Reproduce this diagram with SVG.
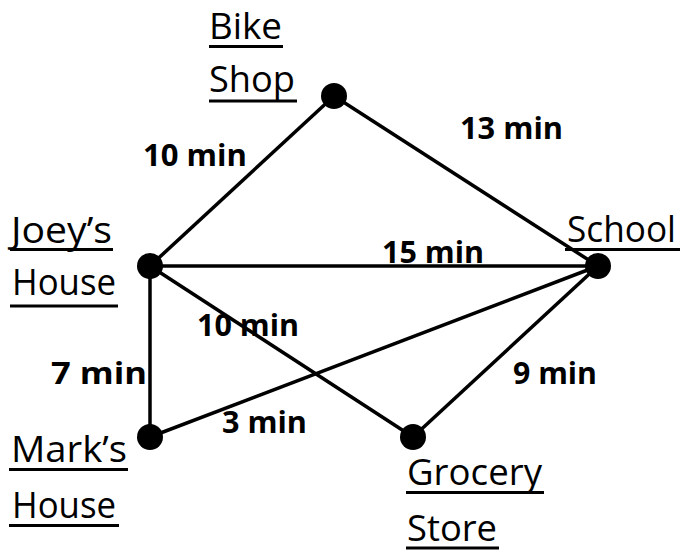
<svg xmlns="http://www.w3.org/2000/svg" width="680" height="550" viewBox="0 0 680 550">
<style>
.lbl{font-family:"Open Sans","Liberation Sans",sans-serif;font-size:36px;fill:#000}
.w{font-family:"Open Sans","Liberation Sans",sans-serif;font-size:30px;font-weight:bold;fill:#000}
.ul{stroke:#000;stroke-width:3}
.e{stroke:#000;stroke-width:3.5;fill:none}
.n{fill:#000}
</style>
<rect width="680" height="550" fill="#fff"/>
<g id="edges">
<line class="e" x1="150" y1="266" x2="334" y2="96"/>
<line class="e" x1="334" y1="96" x2="598" y2="266"/>
<line class="e" x1="150" y1="266" x2="598" y2="266"/>
<line class="e" x1="150" y1="266" x2="150" y2="437"/>
<line class="e" x1="150" y1="266" x2="413" y2="437"/>
<line class="e" x1="150" y1="437" x2="598" y2="266"/>
<line class="e" x1="598" y1="266" x2="413" y2="437"/>
</g>
<g id="weights">
<text class="w" x="143" y="166" textLength="104" lengthAdjust="spacingAndGlyphs">10 min</text>
<text class="w" x="460" y="139" textLength="103" lengthAdjust="spacingAndGlyphs">13 min</text>
<text class="w" x="382" y="263" textLength="102" lengthAdjust="spacingAndGlyphs">15 min</text>
<text class="w" x="197" y="336" textLength="102" lengthAdjust="spacingAndGlyphs">10 min</text>
<text class="w" x="222" y="433" textLength="85" lengthAdjust="spacingAndGlyphs">3 min</text>
<text class="w" x="51" y="384" textLength="96" lengthAdjust="spacingAndGlyphs">7 min</text>
<text class="w" x="513" y="384" textLength="84" lengthAdjust="spacingAndGlyphs">9 min</text>
</g>
<g id="bike-shop">
<circle class="n" cx="334" cy="96" r="13"/>
<text class="lbl" x="209" y="39" textLength="73" lengthAdjust="spacingAndGlyphs">Bike</text>
<line class="ul" x1="209" y1="46.5" x2="283" y2="46.5"/>
<text class="lbl" x="209" y="92" textLength="86" lengthAdjust="spacingAndGlyphs">Shop</text>
<line class="ul" x1="209" y1="101" x2="297" y2="101"/>
</g>
<g id="joeys-house">
<circle class="n" cx="150" cy="266" r="13"/>
<text class="lbl" x="11" y="243" textLength="101" lengthAdjust="spacingAndGlyphs">Joey’s</text>
<line class="ul" x1="10" y1="249.5" x2="113" y2="249.5"/>
<text class="lbl" x="12" y="295" textLength="104" lengthAdjust="spacingAndGlyphs">House</text>
<line class="ul" x1="10" y1="306" x2="118" y2="306"/>
</g>
<g id="school">
<circle class="n" cx="598" cy="266" r="13"/>
<text class="lbl" x="567" y="242" textLength="109" lengthAdjust="spacingAndGlyphs">School</text>
<line class="ul" x1="565" y1="249.5" x2="680" y2="249.5"/>
</g>
<g id="marks-house">
<circle class="n" cx="150" cy="437" r="13"/>
<text class="lbl" x="11" y="462" textLength="116" lengthAdjust="spacingAndGlyphs">Mark’s</text>
<line class="ul" x1="9" y1="469.5" x2="128" y2="469.5"/>
<text class="lbl" x="12" y="518" textLength="104" lengthAdjust="spacingAndGlyphs">House</text>
<line class="ul" x1="9" y1="525.5" x2="119" y2="525.5"/>
</g>
<g id="grocery-store">
<circle class="n" cx="413" cy="437" r="13"/>
<text class="lbl" x="407" y="485" textLength="135" lengthAdjust="spacingAndGlyphs">Grocery</text>
<line class="ul" x1="406" y1="492.5" x2="544" y2="492.5"/>
<text class="lbl" x="407" y="541" textLength="90" lengthAdjust="spacingAndGlyphs">Store</text>
<line class="ul" x1="406" y1="548" x2="499" y2="548"/>
</g>
</svg>
